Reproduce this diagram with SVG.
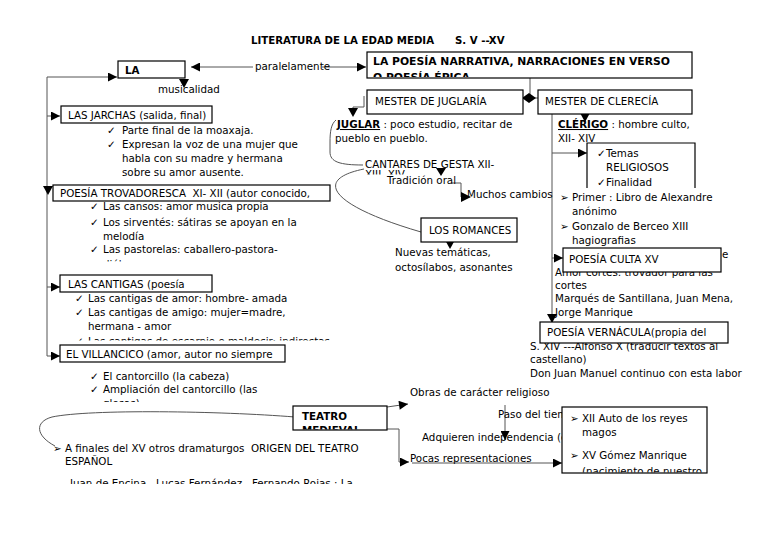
<svg xmlns="http://www.w3.org/2000/svg" width="768" height="543" viewBox="0 0 768 543">
<style>
text{font-family:"DejaVu Sans","Liberation Sans",sans-serif;font-size:10.3px;fill:#000}
.b{font-weight:bold}
.hb{font-weight:bold;font-size:10.8px}
.box{fill:#fff;stroke:#000;stroke-width:1.2}
.ln{fill:none;stroke:#555;stroke-width:1}
.ah{fill:#000}
</style>
<defs>
<marker id="a" viewBox="0 0 10 10" refX="10" refY="5" markerWidth="10" markerHeight="9" markerUnits="userSpaceOnUse" orient="auto"><path d="M0,0L10,5L0,10z" fill="#000"/></marker>
<clipPath id="c1"><rect x="367" y="52" width="325" height="25"/></clipPath>
<clipPath id="c2"><rect x="360" y="160" width="120" height="14.5"/></clipPath>
<clipPath id="c3"><rect x="90" y="250" width="200" height="11.5"/></clipPath>
<clipPath id="c4"><rect x="60" y="330" width="300" height="10.5"/></clipPath>
<clipPath id="c5"><rect x="90" y="395" width="200" height="7"/></clipPath>
<clipPath id="c6"><rect x="293" y="406" width="94" height="23.5"/></clipPath>
<clipPath id="c7"><rect x="562" y="407" width="145" height="65.5"/></clipPath>
<clipPath id="c8"><rect x="50" y="470" width="340" height="14"/></clipPath>
</defs>
<rect width="768" height="543" fill="#fff"/>

<text class="b" x="251" y="44" style="font-size:10.2px">LITERATURA DE LA EDAD MEDIA</text>
<text class="b" x="455" y="44" style="font-size:10.2px">S. V --XV</text>

<g id="connectors">
<path class="ln" d="M47,356V77H117" marker-end="url(#a)"/>
<path class="ln" d="M47,116H60" marker-end="url(#a)"/>
<path class="ln" d="M47,287H60" marker-end="url(#a)"/>
<path class="ln" d="M47,356H60" marker-end="url(#a)"/>
<polygon class="ah" points="43,186 53,186 48,195"/>
<path class="ln" d="M253,67H191" marker-end="url(#a)"/>
<path class="ln" d="M322,67H366" marker-end="url(#a)"/>
<polygon class="ah" points="179,79 189,79 184,88"/>
<path class="ln" d="M530,78V98M523,98H538"/>
<polygon class="ah" points="522,98 529,93 536,98 529,103"/>
<path class="ln" d="M364,96V107H353V109"/>
<polygon class="ah" points="348,108 358,108 353,117"/>
<polygon class="ah" points="580,113 590,113 585,122"/>
<path class="ln" d="M552,114V323"/>
<polygon class="ah" points="547,314 557,314 552,323"/>
<path class="ln" d="M552,153H587" marker-end="url(#a)"/>
<path class="ln" d="M552,258H563" marker-end="url(#a)"/>
<path class="ln" d="M336,120C331,124 330,132 330,142L330,152C330,162 340,165 363,165"/>
<path class="ln" d="M364,169C310,180 335,207 421,232"/>
<polygon class="ah" points="436,168 446,168 441,176"/>
<path class="ln" d="M452,183H461V197"/>
<polygon class="ah" points="461,192 471,197 461,202"/>
<path class="ln" d="M450,242V246"/>
<polygon class="ah" points="445,240 455,240 450,249"/>
<path class="ln" d="M295,417C220,411 90,409 52,417C34,422 36,436 55,446"/>
<path class="ln" d="M387,407L408,404" marker-end="url(#a)"/>
<path class="ln" d="M387,429H399V462H409" marker-end="url(#a)"/>
<path class="ln" d="M505,405V440" marker-end="url(#a)"/>
<path class="ln" d="M412,463H562" marker-end="url(#a)"/>
</g>

<g id="la">
<rect class="box" x="118" y="61" width="67" height="17"/>
<text class="b" x="125" y="74">LA</text>
</g>
<text x="158" y="93">musicalidad</text>
<text x="255" y="70">paralelamente</text>

<g id="poesia-narrativa">
<rect class="box" x="367" y="52" width="325" height="26"/>
<text class="hb" x="373" y="65">LA POESÍA NARRATIVA, NARRACIONES EN VERSO</text>
<text class="hb" x="373" y="81" clip-path="url(#c1)">O POESÍA ÉPICA</text>
</g>

<g id="juglaria">
<rect class="box" x="367" y="90" width="156" height="24"/>
<text x="375" y="105">MESTER DE JUGLARÍA</text>
</g>
<g id="clerecia">
<rect class="box" x="538" y="90" width="154" height="24"/>
<text x="545" y="105">MESTER DE CLERECÍA</text>
</g>

<g id="juglar">
<text x="337" y="128"><tspan class="b" text-decoration="underline">JUGLAR</tspan> : poco estudio, recitar de</text>
<text x="335" y="142">pueblo en pueblo.</text>
</g>
<g id="cantares">
<text x="365" y="168">CANTARES DE GESTA XII-</text>
<text x="365" y="178" clip-path="url(#c2)">XIII, XIV</text>
<text x="387" y="184">Tradición oral</text>
<text x="467" y="198">Muchos cambios</text>
</g>
<g id="romances">
<rect class="box" x="421" y="218" width="96" height="24"/>
<text x="429" y="234">LOS ROMANCES</text>
<text x="395" y="256">Nuevas temáticas,</text>
<text x="395" y="271">octosílabos, asonantes</text>
</g>

<g id="clerigo">
<text x="558" y="128"><tspan class="b" text-decoration="underline">CLÉRIGO</tspan> : hombre culto,</text>
<text x="558" y="142">XII- XIV</text>
</g>
<g id="temas">
<path class="box" d="M587,188V143H695V188" fill="none"/>
<text x="597" y="157">✓</text><text x="606" y="157">Temas</text>
<text x="606" y="171">RELIGIOSOS</text>
<text x="597" y="186">✓</text><text x="606" y="186">Finalidad</text>
</g>
<g id="primer">
<text x="560" y="201">➢</text><text x="572" y="201">Primer : Libro de Alexandre</text>
<text x="572" y="215">anónimo</text>
<text x="560" y="230">➢</text><text x="572" y="230">Gonzalo de Berceo XIII</text>
<text x="572" y="244">hagiografias</text>
<text x="722" y="258">e</text>
<text x="555" y="276">Amor cortés: trovador para las</text>
<text x="555" y="289">cortes</text>
<text x="555" y="302">Marqués de Santillana, Juan Mena,</text>
<text x="555" y="316">Jorge Manrique</text>
</g>
<g id="poesia-culta">
<rect class="box" x="563" y="248" width="158" height="24"/>
<text x="569" y="263">POESÍA CULTA XV</text>
</g>
<g id="vernacula-text">
<text x="530" y="350">S. XIV ---Alfonso X (traducir textos al</text>
<text x="530" y="363">castellano)</text>
<text x="530" y="377">Don Juan Manuel continuo con esta labor</text>
</g>
<g id="poesia-vernacula">
<rect class="box" x="540" y="322" width="188" height="21"/>
<text x="547" y="336">POESÍA VERNÁCULA(propia del</text>
</g>

<g id="jarchas">
<rect class="box" x="61" y="106" width="151" height="17"/>
<text x="68" y="119">LAS JARCHAS (salida, final)</text>
<text x="107" y="134">✓</text><text x="122" y="134">Parte final de la moaxaja.</text>
<text x="107" y="148">✓</text><text x="122" y="148">Expresan la voz de una mujer que</text>
<text x="122" y="162">habla con su madre y hermana</text>
<text x="122" y="176">sobre su amor ausente.</text>
</g>
<g id="trovadoresca">
<text x="90" y="210">✓</text><text x="103" y="210">Las cansos: amor musica propia</text>
<text x="90" y="226">✓</text><text x="103" y="226">Los sirventés: sátiras se apoyan en la</text>
<text x="103" y="240">melodía</text>
<text x="90" y="253">✓</text><text x="103" y="253">Las pastorelas: caballero-pastora-</text>
<text x="103" y="268" clip-path="url(#c3)">diálogo</text>
<rect class="box" x="53" y="185" width="277" height="16"/>
<text x="60" y="197" xml:space="preserve">POESÍA TROVADORESCA  XI- XII (autor conocido,</text>
</g>
<g id="cantigas">
<rect class="box" x="60" y="275" width="152" height="17"/>
<text x="68" y="288">LAS CANTIGAS (poesía</text>
<text x="75" y="302">✓</text><text x="88" y="302">Las cantigas de amor: hombre- amada</text>
<text x="75" y="316">✓</text><text x="88" y="316">Las cantigas de amigo: mujer=madre,</text>
<text x="88" y="330">hermana - amor</text>
<g clip-path="url(#c4)"><text x="75" y="345">✓</text><text x="88" y="345">Las cantigas de escarnio o maldecir: indirectas</text></g>
</g>
<g id="villancico">
<rect class="box" x="60" y="345" width="225" height="17"/>
<text x="66" y="358">EL VILLANCICO (amor, autor no siempre</text>
<text x="90" y="380">✓</text><text x="103" y="380">El cantorcillo (la cabeza)</text>
<text x="90" y="393">✓</text><text x="103" y="393">Ampliación del cantorcillo (las</text>
<text x="103" y="407" clip-path="url(#c5)">glosas)</text>
</g>

<g id="teatro">
<rect class="box" x="293" y="406" width="94" height="24"/>
<text class="b" x="302" y="420">TEATRO</text>
<text class="b" x="302" y="434" clip-path="url(#c6)">MEDIEVAL</text>
</g>
<g id="teatro-text">
<text x="410" y="396">Obras de carácter religioso</text>
<text x="498" y="418">Paso del tiempo</text>
<text x="422" y="441">Adquieren independencia (c</text>
<text x="410" y="462">Pocas representaciones</text>
<text x="53" y="452">➢</text>
<text x="65" y="452" xml:space="preserve">A finales del XV otros dramaturgos  ORIGEN DEL TEATRO</text>
<text x="65" y="465">ESPAÑOL</text>
<text x="70" y="487" clip-path="url(#c8)" xml:space="preserve">Juan de Encina,  Lucas Fernández,  Fernando Rojas : La</text>
</g>
<g id="auto">
<rect class="box" x="562" y="407" width="145" height="66"/>
<g clip-path="url(#c7)">
<text x="570" y="422">➢</text><text x="582" y="422">XII Auto de los reyes</text>
<text x="582" y="436">magos</text>
<text x="570" y="459">➢</text><text x="582" y="459">XV Gómez Manrique</text>
<text x="582" y="475">(nacimiento de nuestro</text>
</g>
</g>
</svg>
